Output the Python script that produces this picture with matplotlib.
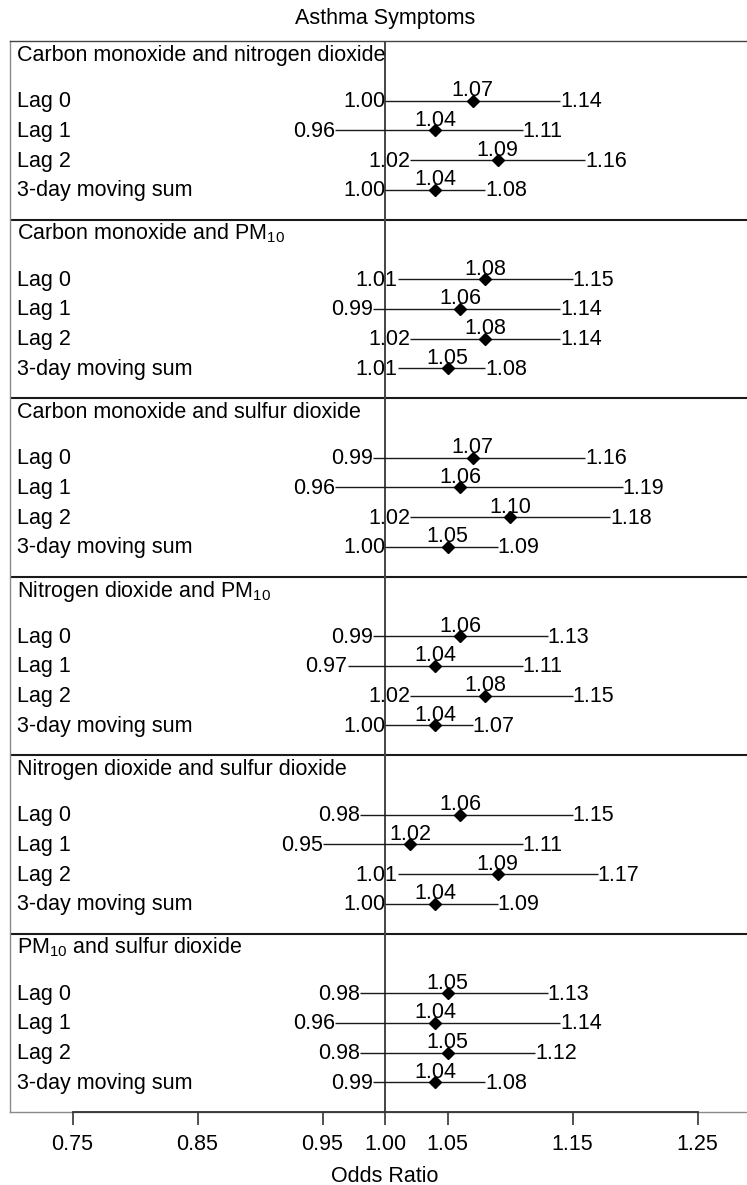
import matplotlib
matplotlib.use('Agg')
import matplotlib.pyplot as plt

# 字体：Arial 同款度量
plt.rcParams['font.family'] = ['Liberation Sans', 'DejaVu Sans']
plt.rcParams['mathtext.fontset'] = 'custom'
plt.rcParams['mathtext.rm'] = 'Liberation Sans'
plt.rcParams['mathtext.it'] = 'Liberation Sans'

# 数据
pairs = ['Carbon monoxide and nitrogen dioxide',
         'Carbon monoxide and PM$_{10}$',
         'Carbon monoxide and sulfur dioxide',
         'Nitrogen dioxide and PM$_{10}$',
         'Nitrogen dioxide and sulfur dioxide',
         'PM$_{10}$ and sulfur dioxide']
lags = ['Lag 0', 'Lag 1', 'Lag 2', '3-day moving sum']
est = [[1.07, 1.04, 1.09, 1.04],
       [1.08, 1.06, 1.08, 1.05],
       [1.07, 1.06, 1.10, 1.05],
       [1.06, 1.04, 1.08, 1.04],
       [1.06, 1.02, 1.09, 1.04],
       [1.05, 1.04, 1.05, 1.04]]
lower = [[1.00, 0.96, 1.02, 1.00],
         [1.01, 0.99, 1.02, 1.01],
         [0.99, 0.96, 1.02, 1.00],
         [0.99, 0.97, 1.02, 1.00],
         [0.98, 0.95, 1.01, 1.00],
         [0.98, 0.96, 0.98, 0.99]]
upper = [[1.14, 1.11, 1.16, 1.08],
         [1.15, 1.14, 1.14, 1.08],
         [1.16, 1.19, 1.18, 1.09],
         [1.13, 1.11, 1.15, 1.07],
         [1.15, 1.11, 1.17, 1.09],
         [1.13, 1.14, 1.12, 1.08]]
xticks = [0.75, 0.85, 0.95, 1.00, 1.05, 1.15, 1.25]

FS = 15.5
W, H = 747, 1185
fig = plt.figure(figsize=(W / 100, H / 100), dpi=100)
ax = fig.add_axes([10 / W, 73 / H, 740 / W, 1071 / H])
ax.set_xlim(0.70, 0.70 + 740 / 1250)
ax.set_ylim(36, 0)

# 每组 6 行：标题、空行、4 个 lag
for k, name in enumerate(pairs):
    top = 6 * k
    ax.text(0.7056, top + 0.68, name, fontsize=FS, va='baseline', ha='left')
    for j, lab in enumerate(lags):
        y = top + 2 + j
        e, l, u = est[k][j], lower[k][j], upper[k][j]
        ax.plot([l, u], [y, y], color='#1a1a1a', lw=1.0, solid_capstyle='butt', zorder=3)
        ax.plot(e, y, marker='D', ms=5.8, color='black', zorder=4)
        ax.text(0.7056, y + 0.22, lab, fontsize=FS, va='baseline', ha='left')
        ax.text(l, y + 0.22, '%.2f' % l, fontsize=FS, va='baseline', ha='right', zorder=5)
        ax.text(u, y + 0.22, '%.2f' % u, fontsize=FS, va='baseline', ha='left', zorder=5)
        ax.text(e, y - 0.15, '%.2f' % e, fontsize=FS, va='baseline', ha='center', zorder=5)
    if k > 0:
        ax.axhline(top, color='#1a1a1a', lw=1.5, zorder=2)

ax.axvline(1.0, color='#444444', lw=1.4, zorder=2)

# 边框
for s in ['left', 'top', 'right']:
    ax.spines[s].set_color('#8a8a8a')
    ax.spines[s].set_linewidth(1.0)
ax.spines['top'].set_color('#444444')
ax.axhline(36, color='#8a8a8a', lw=1.0, clip_on=False, zorder=1)
ax.spines['bottom'].set_bounds(0.75, 1.25)
ax.spines['bottom'].set_color('#333333')
ax.spines['bottom'].set_linewidth(1.3)
ax.spines['bottom'].set_zorder(3)

ax.set_xticks(xticks)
ax.set_xticklabels(['%.2f' % t for t in xticks])
ax.tick_params(axis='x', direction='out', length=9.5, width=1.2, color='#333333',
               labelsize=FS, pad=6)
ax.set_yticks([])

ax.text(1.0, 36 + 64 / 29.75, 'Odds Ratio', fontsize=FS, ha='center', va='center', clip_on=False)
ax.text(1.0, -0.57, 'Asthma Symptoms', fontsize=FS, ha='center', va='baseline', clip_on=False)

fig.savefig('out.png', dpi=100)
